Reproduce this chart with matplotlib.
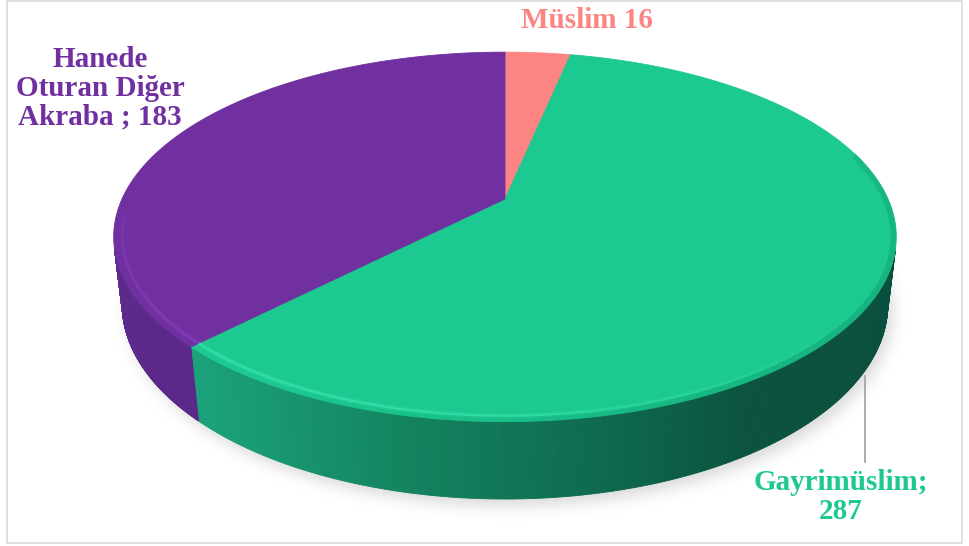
import numpy as np
import matplotlib
matplotlib.use('Agg')
import matplotlib.pyplot as plt
from matplotlib.patches import Polygon, Rectangle
from matplotlib.collections import PolyCollection
from matplotlib.path import Path
from matplotlib.colors import to_rgb

# ---- data ----
categories = ['Müslim', 'Gayrimüslim', 'Hanede\nOturan Diğer\nAkraba']
values = [16, 287, 183]
label_texts = ['Müslim 16', 'Gayrimüslim;\n287', 'Hanede\nOturan Diğer\nAkraba ; 183']
top_colors = ['#FC8583', '#1CC990', '#7030A0']
side_stops = [
    [(0, '#D86C6A'), (1, '#B85A58')],
    [(200, '#1BA27B'), (400, '#138460'), (600, '#0E6A50'), (750, '#0B533F'), (900, '#0B4F3E')],
    [(100, '#5C2A8A'), (260, '#58288A')],
]
rim_light = ['#FFA5A3', '#40EAB5', '#8A46C6']
rim_dark = ['#D86C6A', '#0F9A6C', '#5A2488']

W, H = 969, 546
fig = plt.figure(figsize=(W / 100, H / 100), dpi=100)
ax = fig.add_axes([0, 0, 1, 1])
ax.set_xlim(0, W)
ax.set_ylim(H, 0)
ax.axis('off')

# camera / projection settings
CX, CY = 505, 199
S = 383.0
ALPHA = np.arcsin(177.0 / 383.0)
PP = 0.205 / np.cos(ALPHA)
HGT = 0.2


def proj(theta_deg, z=0.0, scale=1.0):
    t = np.radians(theta_deg)
    x = scale * np.cos(t)
    y = scale * np.sin(t)
    zz = -HGT * z
    u = x
    v = y * np.sin(ALPHA) + zz * np.cos(ALPHA)
    d = y * np.cos(ALPHA) - zz * np.sin(ALPHA)
    w = 1 + PP * d
    return CX + S * u / w, CY - S * v / w


def grad_color(stops, x):
    xs = [s[0] for s in stops]
    cs = np.array([to_rgb(s[1]) for s in stops])
    return tuple(np.interp(x, xs, cs[:, k]) for k in range(3))


total = float(sum(values))
cum = np.concatenate([[0], np.cumsum(values)])
starts = 90 - 360 * cum[:-1] / total
ends = 90 - 360 * cum[1:] / total

# ---- shadow ----
th = np.linspace(0, 360, 400)
bx, by = proj(th, z=1.0)
shadow_path = Path(np.column_stack([bx + 5, by + 7]))
gy, gx = np.mgrid[0:H, 0:W]
mask = shadow_path.contains_points(np.column_stack([gx.ravel() + 0.5, gy.ravel() + 0.5])).reshape(H, W).astype(float)
sig = 7
r = np.arange(-3 * sig, 3 * sig + 1)
ker = np.exp(-r ** 2 / (2 * sig ** 2))
ker /= ker.sum()
blur = np.zeros_like(mask)
for o, k in zip(r, ker):
    blur += k * np.roll(mask, o, axis=0)
blur2 = np.zeros_like(blur)
for o, k in zip(r, ker):
    blur2 += k * np.roll(blur, o, axis=1)
rgba = np.zeros((H, W, 4))
rgba[..., :3] = 0.55
rgba[..., 3] = blur2 * 0.32
ax.imshow(rgba, extent=[0, W, H, 0], zorder=1, interpolation='bilinear')

# ---- sides ----
sil = np.degrees(np.arcsin(min(PP / np.cos(ALPHA), 0.99)))
vis_lo = 180 + sil
vis_hi = 360 - sil
for i in range(len(values)):
    hi, lo = starts[i], ends[i]
    for k in (-360, 0, 360):
        a = max(lo + k, vis_lo)
        b = min(hi + k, vis_hi)
        if b > a:
            ang = np.linspace(a, b, 220)
            tx, ty = proj(ang, 0)
            ux, uy = proj(ang, 1)
            polys, cols = [], []
            for j in range(len(ang) - 1):
                polys.append([(tx[j], ty[j]), (tx[j + 1], ty[j + 1]), (ux[j + 1], uy[j + 1]), (ux[j], uy[j])])
                cols.append(grad_color(side_stops[i], 0.5 * (tx[j] + tx[j + 1])))
            pc = PolyCollection(polys, facecolors=cols, edgecolors=cols, linewidths=0.6, zorder=2)
            ax.add_collection(pc)

# ---- top faces ----
for i in range(len(values)):
    ang = np.linspace(starts[i], ends[i], 300)
    x, y = proj(ang, 0)
    pts = np.column_stack([np.concatenate([[CX], x]), np.concatenate([[CY], y])])
    ax.add_patch(Polygon(pts, closed=True, facecolor=top_colors[i], edgecolor=top_colors[i], lw=0.6, zorder=3))

# ---- bevel (rim light / dark) ----
for i in range(len(values)):
    hi, lo = starts[i], ends[i]
    for k in (-360, 0, 360):
        a = max(lo + k, 185)
        b = min(hi + k, 375)
        if b > a:
            ang = np.linspace(a, b, 160)
            xl, yl = proj(ang, 0, scale=0.979)
            xd, yd = proj(ang, 0, scale=0.993)
            wl = np.clip(np.cos(np.radians(ang - 240)), 0, 1) ** 1.5
            wd = np.clip(np.cos(np.radians(ang - 330)), 0, 1)
            for j in range(len(ang) - 1):
                if wl[j] > 0.03:
                    ax.plot(xl[j:j + 2], yl[j:j + 2], color=rim_light[i], lw=3.5, alpha=0.25 * wl[j],
                            solid_capstyle='butt', zorder=4)
                    ax.plot(xl[j:j + 2], yl[j:j + 2], color=rim_light[i], lw=1.4, alpha=0.55 * wl[j],
                            solid_capstyle='butt', zorder=4)
                if wd[j] > 0.03:
                    ax.plot(xd[j:j + 2], yd[j:j + 2], color=rim_dark[i], lw=4, alpha=0.45 * wd[j],
                            solid_capstyle='butt', zorder=4)

# ---- labels ----
font = dict(family='Liberation Serif', weight='bold', fontsize=21)
ax.text(587, 21, label_texts[0], color=top_colors[0], ha='center', va='center', **font)
ax.text(841, 497, label_texts[1], color=top_colors[1], ha='center', va='center',
        multialignment='center', linespacing=1.05, **font)
ax.text(100, 88, label_texts[2], color=top_colors[2], ha='center', va='center',
        multialignment='center', linespacing=1.08, **font)
ax.plot([865, 865], [376, 462], color='#A6A6A6', lw=1.3, zorder=5)

# ---- frame ----
ax.add_patch(Rectangle((7, 1), 955, 542, fill=False, edgecolor='#D9D9D9', lw=1.2, zorder=6))

fig.savefig('out.png', dpi=100)
